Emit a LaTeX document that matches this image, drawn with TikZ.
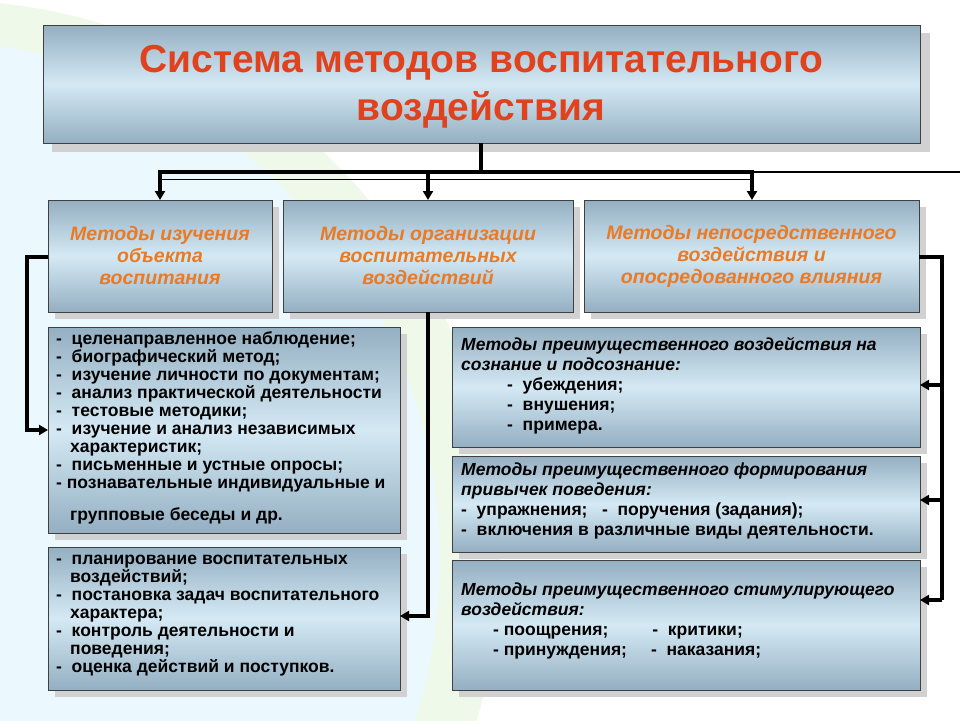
\documentclass[tikz,border=0pt]{standalone}
\usepackage{fontspec}
\setmainfont{Liberation Sans}
\usetikzlibrary{arrows.meta,calc}
\definecolor{titlered}{HTML}{E0421E}
\definecolor{headorange}{HTML}{EA7A24}
\definecolor{boxdark}{HTML}{94AFC2}
\definecolor{boxlight}{HTML}{D4E9F4}
\tikzset{
  panel/.style={draw=black!75, line width=1pt, top color=boxdark, bottom color=boxdark, middle color=boxlight, inner sep=0pt},
  shadowbox/.style={fill=black!18, draw=none},
  conn/.style={line width=3.2pt, draw=black},
  arr/.style={conn, -{Triangle[length=9pt,width=10pt]}},
  head/.style={text=headorange, font=\bfseries\itshape\fontsize{19.5}{22}\selectfont, align=center},
  lst/.style={font=\bfseries\fontsize{17.5}{18}\selectfont, align=left, anchor=north west, inner sep=0pt},
  lsti/.style={font=\bfseries\itshape\fontsize{17.5}{20}\selectfont, align=left, anchor=north west, inner sep=0pt}
}
\newcommand{\panelbox}[5]{% name, x1,y1,x2,y2
  \fill[shadowbox] (#2+7,#3+7) rectangle (#4+7,#5+7);
  \path[panel] (#2,#3) rectangle (#4,#5);
  \coordinate (#1-nw) at (#2,#3); \coordinate (#1-se) at (#4,#5);
  \node[inner sep=0pt] (#1) at ($(#2,#3)!0.5!(#4,#5)$) {};
}
\begin{document}
\begin{tikzpicture}[x=1pt,y=-1pt]
\useasboundingbox (0,0) rectangle (960,720);
\fill[white] (0,0) rectangle (960,720);
\begin{scope}
\clip (0,0) rectangle (960,720);
\fill[yellow!20!green!8] (-60,560) circle (560);
\fill[cyan!8] (-80,560) circle (520);
\fill[white] (960,0) rectangle (150,150);
\end{scope}
% title
\fill[shadowbox] (52,33) rectangle (930,152);
\path[panel] (43,25) rectangle (920,143);
\node[text=titlered, font=\bfseries\fontsize{39}{48}\selectfont, align=center] (title) at (481,87) {Система методов воспитательного\\воздействия};
\coordinate (tb) at (481,143);
% headers
\panelbox{b1}{48}{200}{272}{312}
\panelbox{b2}{283}{200}{573}{312}
\panelbox{b3}{584}{200}{919}{312}
\node[head] at (b1) {Методы изучения\\объекта\\воспитания};
\node[head] at (b2) {Методы организации\\воспитательных\\воздействий};
\node[head] at (b3) {Методы непосредственного\\воздействия и\\опосредованного влияния};
% lists
\panelbox{l1}{48}{327}{400}{533}
\panelbox{l2}{48}{547}{400}{690}
\panelbox{r1}{452}{327}{920}{447}
\panelbox{r2}{452}{456}{920}{552}
\panelbox{r3}{452}{560}{920}{690}
\node[lst] at (56,331) {-\ \ целенаправленное наблюдение;\\-\ \ биографический метод;\\-\ \ изучение личности по документам;\\-\ \ анализ практической деятельности\\-\ \ тестовые методики;\\-\ \ изучение и анализ независимых\\\hspace*{14pt}характеристик;\\-\ \ письменные и устные опросы;\\- познавательные индивидуальные и\\[14pt]\hspace*{14pt}групповые беседы и др.};
\node[lst] at (56,555) {-\ \ планирование воспитательных\\\hspace*{14pt}воздействий;\\-\ \ постановка задач воспитательного\\\hspace*{14pt}характера;\\-\ \ контроль деятельности и\\\hspace*{14pt}поведения;\\-\ \ оценка действий и поступков.};
\node[lsti] at (461,337) {Методы преимущественного воздействия на\\сознание и подсознание:\\\normalfont\bfseries\hspace*{46pt}-\ \ убеждения;\\\normalfont\bfseries\hspace*{46pt}-\ \ внушения;\\\normalfont\bfseries\hspace*{46pt}-\ \ примера.};
\node[lsti] at (461,463) {Методы преимущественного формирования\\привычек поведения:\\\normalfont\bfseries -\ \ упражнения;\ \ \ -\ \ поручения (задания);\\\normalfont\bfseries -\ \ включения в различные виды деятельности.};
\node[lsti] at (461,583) {Методы преимущественного стимулирующего\\воздействия:\\\normalfont\bfseries\hspace*{32pt}- поощрения;\hspace*{44pt}-\ \ критики;\\\normalfont\bfseries\hspace*{32pt}- принуждения;\hspace*{24pt}-\ \ наказания;};
% connectors
\coordinate (bar) at (481,172);
\draw[conn] (tb) -- (bar);
\draw[conn] (158,172) -- (754,172);
\draw[line width=1.2pt] (754,172) -- (960,172);
\draw[line width=1pt] (160,179) -- (750,179);
\draw[arr] (160,172) -- (160,200);
\draw[arr] (428,172) -- (428,200);
\draw[arr] (752,172) -- (752,200);
% left
\draw[arr] (48,257) -- (27,257) -- (27,430) -- (48,430);
% middle
\draw[arr] (428,312) -- (428,616) -- (400,616);
% right
\draw[conn] (919,257) -- (942,257) -- (942,600);
\draw[arr] (942,385) -- (920,385);
\draw[arr] (942,500) -- (920,500);
\draw[arr] (942,600) -- (920,600);
\end{tikzpicture}
\end{document}
